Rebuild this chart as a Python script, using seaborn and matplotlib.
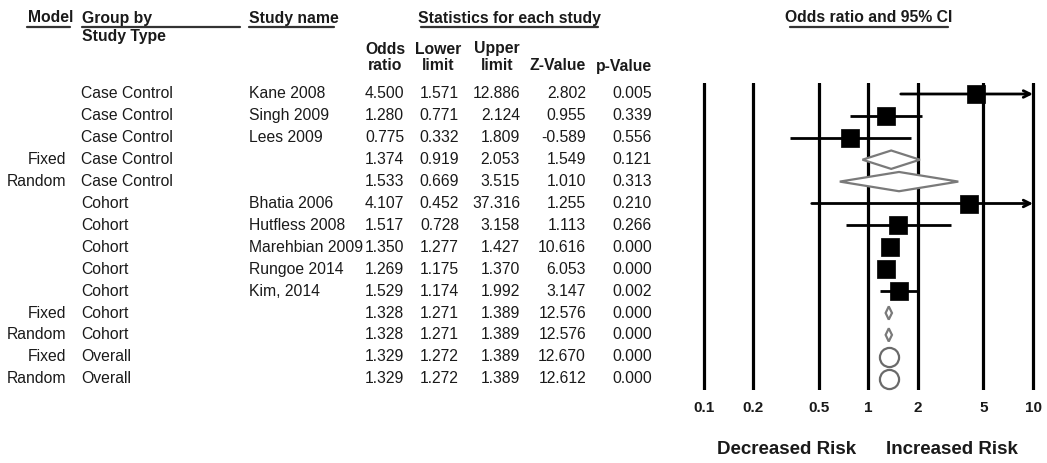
import matplotlib
matplotlib.use("Agg")
import matplotlib.pyplot as plt
from matplotlib.lines import Line2D
from matplotlib.ticker import NullLocator, FixedLocator, FixedFormatter
import seaborn as sns
import pandas as pd
import numpy as np

# ---------------- data ----------------
models = ["", "", "", "Fixed", "Random", "", "", "", "", "", "Fixed", "Random", "Fixed", "Random"]
groups = ["Case Control"] * 5 + ["Cohort"] * 7 + ["Overall"] * 2
studies = ["Kane 2008", "Singh 2009", "Lees 2009", "", "", "Bhatia 2006", "Hutfless 2008",
           "Marehbian 2009", "Rungoe 2014", "Kim, 2014", "", "", "", ""]
odds = [4.500, 1.280, 0.775, 1.374, 1.533, 4.107, 1.517, 1.350, 1.269, 1.529, 1.328, 1.328, 1.329, 1.329]
lower = [1.571, 0.771, 0.332, 0.919, 0.669, 0.452, 0.728, 1.277, 1.175, 1.174, 1.271, 1.271, 1.272, 1.272]
upper = [12.886, 2.124, 1.809, 2.053, 3.515, 37.316, 3.158, 1.427, 1.370, 1.992, 1.389, 1.389, 1.389, 1.389]
zvals = [2.802, 0.955, -0.589, 1.549, 1.010, 1.255, 1.113, 10.616, 6.053, 3.147, 12.576, 12.576, 12.670, 12.612]
pvals = [0.005, 0.339, 0.556, 0.121, 0.313, 0.210, 0.266, 0.000, 0.000, 0.002, 0.000, 0.000, 0.000, 0.000]
kinds = ["study"] * 3 + ["diamond"] * 2 + ["study"] * 5 + ["diamond"] * 2 + ["circle"] * 2
diamond_half = [0, 0, 0, 0.42, 0.44, 0, 0, 0, 0, 0, 0.30, 0.30, 0, 0]

xticks = [0.1, 0.2, 0.5, 1, 2, 5, 10]
xtick_labels = ["0.1", "0.2", "0.5", "1", "2", "5", "10"]

df = pd.DataFrame({"model": models, "group": groups, "study": studies, "odds": odds,
                   "lower": lower, "upper": upper, "z": zvals, "p": pvals, "kind": kinds,
                   "dh": diamond_half})
df["row"] = np.arange(len(df))

# ---------------- figure ----------------
sns.set_theme(style="white")
plt.rcParams["font.family"] = ["Liberation Sans", "DejaVu Sans"]

W, H = 1047, 463
fig = plt.figure(figsize=(W / 100, H / 100), dpi=100)
fig.patch.set_facecolor("white")


def fx(px):
    return px / W


def fy(py):
    return 1 - py / H


def txt(x, y, s, ha="left", bold=False, size=11.3):
    fig.text(fx(x), fy(y), s, ha=ha, va="center", fontsize=size,
             fontweight="bold" if bold else "normal", color="#1a1a1a")


def uline(x0, x1, y):
    fig.add_artist(Line2D([fx(x0), fx(x1)], [fy(y), fy(y)], color="#333333", lw=1.6))


# headers
txt(28, 18, "Model", bold=True); uline(27, 70, 27)
txt(82, 18, "Group by", bold=True); uline(82, 240, 27)
txt(82, 37, "Study Type", bold=True)
txt(249, 18, "Study name", bold=True); uline(249, 334, 27)
txt(509, 18, "Statistics for each study", ha="center", bold=True); uline(421, 598, 27)
txt(869, 18, "Odds ratio and 95% CI", ha="center", bold=True); uline(790, 948, 27)
txt(385, 49, "Odds", ha="center", bold=True); txt(385, 66, "ratio", ha="center", bold=True)
txt(438, 49, "Lower", ha="center", bold=True); txt(438, 66, "limit", ha="center", bold=True)
txt(497, 49, "Upper", ha="center", bold=True); txt(497, 66, "limit", ha="center", bold=True)
txt(586, 66, "Z-Value", ha="right", bold=True)
txt(652, 66, "p-Value", ha="right", bold=True)

# table rows
row0, dy = 94.0, 21.9
for _, r in df.iterrows():
    y = row0 + dy * r["row"]
    if r["model"]:
        txt(66, y, r["model"], ha="right")
    txt(81, y, r["group"])
    if r["study"]:
        txt(249, y, r["study"])
    txt(404, y, f"{r['odds']:.3f}", ha="right")
    txt(459, y, f"{r['lower']:.3f}", ha="right")
    txt(520, y, f"{r['upper']:.3f}", ha="right")
    txt(586, y, f"{r['z']:.3f}", ha="right")
    txt(652, y, f"{r['p']:.3f}", ha="right")

# ---------------- forest axes ----------------
ax_l, ax_r, ax_t, ax_b = 695, 1042, 83, 390
ax = fig.add_axes([fx(ax_l), fy(ax_b), (ax_r - ax_l) / W, (ax_b - ax_t) / H])
ax.set_xscale("log")
ax.set_xlim(0.0882, 11.34)
ax.set_ylim((ax_b - row0) / dy, (ax_t - row0) / dy)
for s in ax.spines.values():
    s.set_visible(False)
ax.set_facecolor("white")
ax.grid(False)

for t in xticks:
    ax.axvline(t, color="black", lw=2.3, zorder=1)

xmax_plot = 10
# CI lines for individual studies
st = df[df["kind"] == "study"]
for _, r in st.iterrows():
    hi = min(r["upper"], xmax_plot)
    if r["upper"] > xmax_plot:
        ax.annotate("", xy=(hi, r["row"]), xytext=(r["lower"], r["row"]),
                    arrowprops=dict(arrowstyle="->", lw=2.0, color="black",
                                    shrinkA=0, shrinkB=0, mutation_scale=12), zorder=3)
    else:
        ax.hlines(r["row"], r["lower"], hi, color="black", lw=2.0, zorder=3)

sns.scatterplot(data=st, x="odds", y="row", marker="s", s=155, color="black",
                edgecolor="black", linewidth=0.5, ax=ax, zorder=4, legend=False)

# summary diamonds
dm = df[df["kind"] == "diamond"]
for _, r in dm.iterrows():
    xs = [r["lower"], r["odds"], r["upper"], r["odds"], r["lower"]]
    ys = [r["row"], r["row"] - r["dh"], r["row"], r["row"] + r["dh"], r["row"]]
    ax.fill(xs, ys, facecolor="white", edgecolor="#7a7a7a", lw=1.6, zorder=4)

# overall circles
cc = df[df["kind"] == "circle"]
sns.scatterplot(data=cc, x="odds", y="row", marker="o", s=190, color="white",
                edgecolor="#6a6a6a", linewidth=1.6, ax=ax, zorder=4, legend=False)

ax.xaxis.set_major_locator(FixedLocator(xticks))
ax.xaxis.set_major_formatter(FixedFormatter(xtick_labels))
ax.xaxis.set_minor_locator(NullLocator())
ax.tick_params(axis="x", length=0, pad=8, labelsize=11)
for lab in ax.get_xticklabels():
    lab.set_fontweight("bold")
    lab.set_color("#1a1a1a")
ax.set_yticks([])
ax.set_xlabel("")
ax.set_ylabel("")

txt(787, 450, "Decreased Risk", ha="center", bold=True, size=13.5)
txt(952, 450, "Increased Risk", ha="center", bold=True, size=13.5)

fig.savefig("out.png", dpi=100, facecolor="white")
